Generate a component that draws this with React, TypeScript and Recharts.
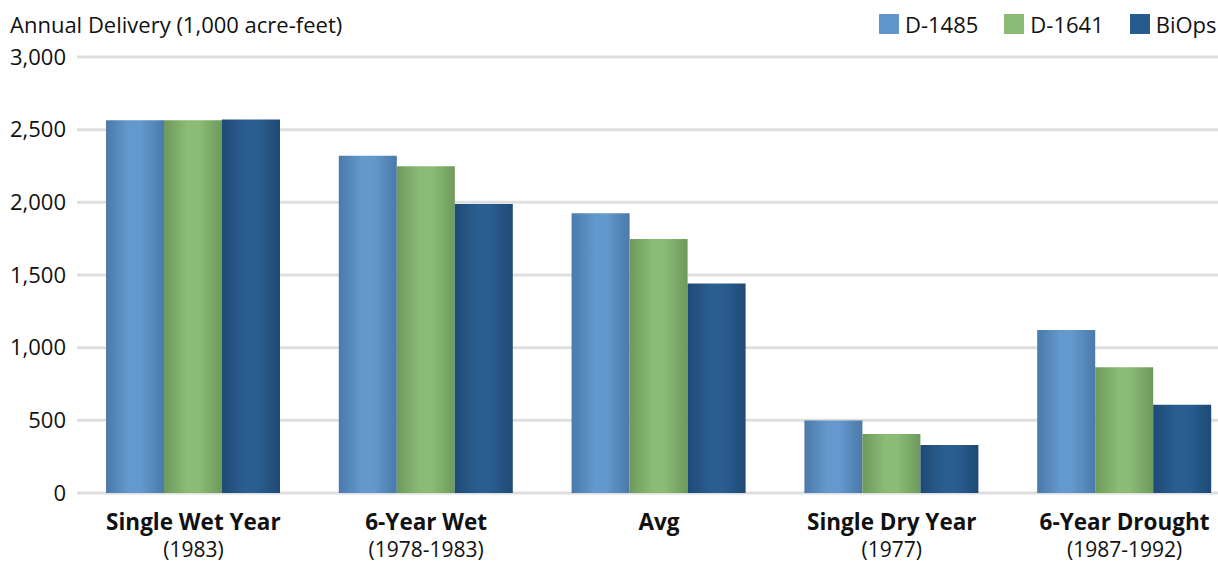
import { BarChart, Bar, XAxis, YAxis, CartesianGrid } from 'recharts';

const categories = ['Single Wet Year', '6-Year Wet', 'Avg', 'Single Dry Year', '6-Year Drought'];
const periods = ['(1983)', '(1978-1983)', '', '(1977)', '(1987-1992)'];
const d1485 = [2565, 2321, 1925, 499, 1121];
const d1641 = [2565, 2248, 1747, 406, 866];
const biops = [2570, 1989, 1441, 330, 607];
const yTicks = [0, 500, 1000, 1500, 2000, 2500, 3000];

const series = [
  { key: 'D-1485', values: d1485, id: 'gBlue', edge: '#4b79aa', mid: '#6399cd', swatch: '#6196cb' },
  { key: 'D-1641', values: d1641, id: 'gGreen', edge: '#6d9a5c', mid: '#8cbb75', swatch: '#8aba74' },
  { key: 'BiOps', values: biops, id: 'gNavy', edge: '#1f4a76', mid: '#2a5e91', swatch: '#285b8d' },
];

const chartData = categories.map((c, i) => ({
  name: c,
  'D-1485': d1485[i],
  'D-1641': d1641[i],
  BiOps: biops[i],
}));

const FONT = '"Open Sans", "Noto Sans", sans-serif';

const CategoryTick = ({ x, y, payload }: any) => {
  const i = categories.indexOf(payload.value);
  return (
    <g>
      <text x={x} y={y + 37} textAnchor="middle" fontFamily={FONT} fontSize={22.5} fontWeight={700} fill="#111">
        {payload.value}
      </text>
      {periods[i] && (
        <text x={x} y={y + 64} textAnchor="middle" fontFamily={FONT} fontSize={21} fill="#111">
          {periods[i]}
        </text>
      )}
    </g>
  );
};

export default function App() {
  return (
    <div style={{ position: 'absolute', left: 0, top: 0, width: 1218, height: 563, overflow: 'hidden', background: '#fff', fontFamily: FONT }}>
      <div style={{ position: 'absolute', left: 10, top: 11, fontSize: 22, lineHeight: '26px', color: '#111', whiteSpace: 'nowrap' }}>
        Annual Delivery (1,000 acre-feet)
      </div>
      <div style={{ position: 'absolute', left: 879, top: 10, display: 'flex', alignItems: 'center', fontSize: 22, lineHeight: '28px', color: '#111', whiteSpace: 'nowrap' }}>
        {series.map((s) => (
          <div key={s.key} style={{ display: 'flex', alignItems: 'center', marginRight: 26, flexShrink: 0 }}>
            <span style={{ display: 'inline-block', width: 20, height: 20, background: s.swatch, marginRight: 6 }} />
            <span>{s.key}</span>
          </div>
        ))}
      </div>
      <BarChart
        width={1241}
        height={563}
        data={chartData}
        margin={{ top: 57, right: 0, bottom: 0, left: 0 }}
        barGap={0}
        barSize={58}
      >
        <defs>
          {series.map((s) => (
            <linearGradient key={s.id} id={s.id} x1="0" y1="0" x2="1" y2="0">
              <stop offset="0%" stopColor={s.edge} />
              <stop offset="40%" stopColor={s.mid} />
              <stop offset="60%" stopColor={s.mid} />
              <stop offset="100%" stopColor={s.edge} />
            </linearGradient>
          ))}
        </defs>
        <XAxis
          dataKey="name"
          axisLine={false}
          tickLine={false}
          tickSize={0}
          tickMargin={0}
          height={70}
          interval={0}
          tick={<CategoryTick />}
        />
        <YAxis
          domain={[0, 3000]}
          ticks={yTicks}
          width={77}
          axisLine={false}
          tickLine={false}
          tickSize={0}
          tickMargin={11}
          tickFormatter={(v: number) => v.toLocaleString('en-US')}
          tick={{ fontFamily: FONT, fontSize: 22, fill: '#111' }}
        />
        {series.map((s) => (
          <Bar key={s.key} dataKey={s.key} fill={`url(#${s.id})`} isAnimationActive={false} />
        ))}
        <CartesianGrid vertical={false} stroke="rgba(0,0,0,0.13)" strokeWidth={3} />
      </BarChart>
    </div>
  );
}
